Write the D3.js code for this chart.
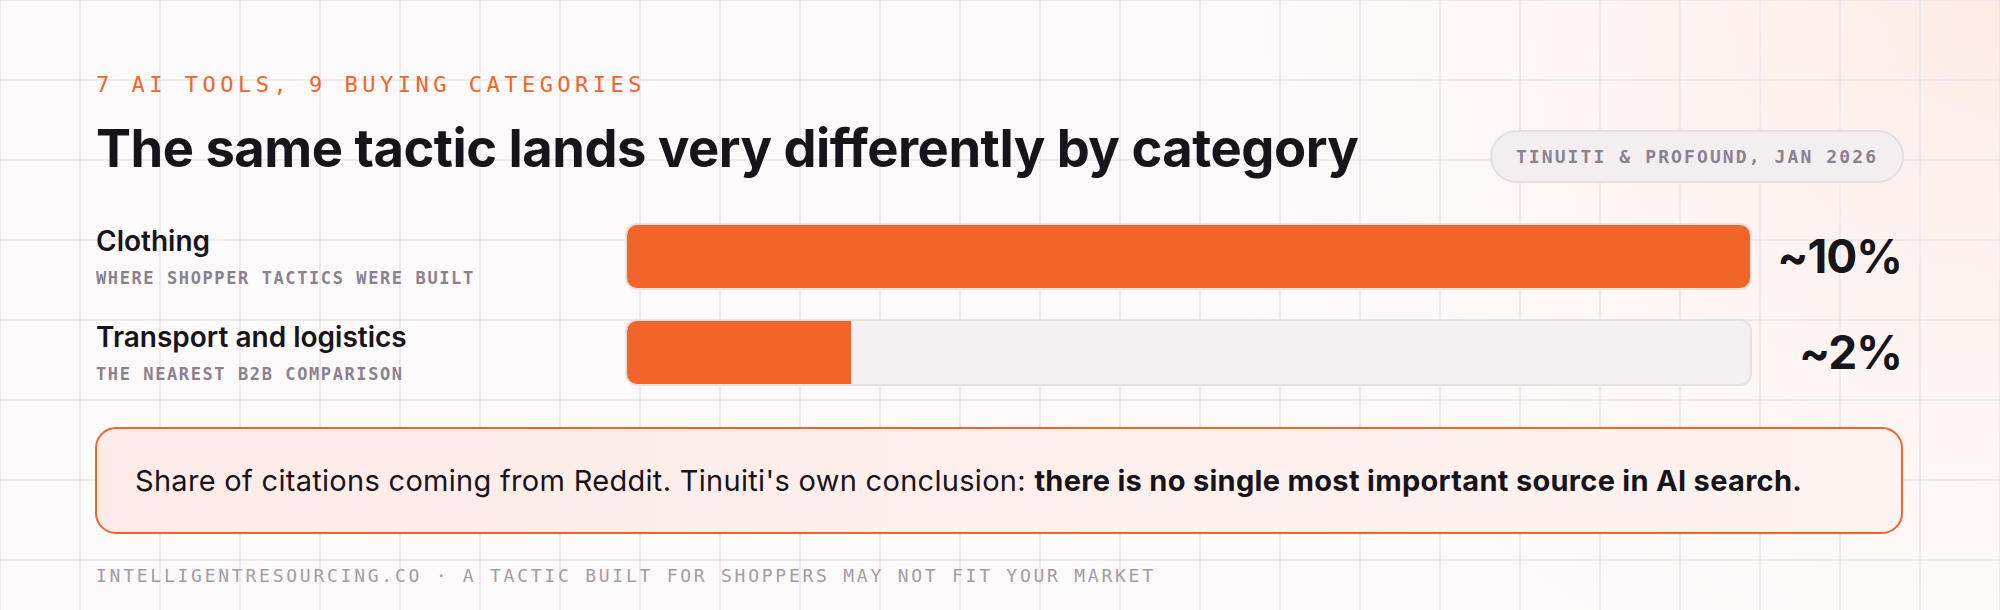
<!DOCTYPE html>
<html><head><meta charset="utf-8">
<script src="https://cdn.jsdelivr.net/npm/d3@7"></script>
<style>
html,body{margin:0;padding:0;background:#fdfafb;}
svg{display:block;}
</style></head>
<body>
<svg id="chart" width="2000" height="610"></svg>
<script>
const eyebrow = "7 AI TOOLS, 9 BUYING CATEGORIES";
const title = "The same tactic lands very differently by category";
const sourceLabel = "TINUITI & PROFOUND, JAN 2026";
const categories = ["Clothing", "Transport and logistics"];
const notes = ["WHERE SHOPPER TACTICS WERE BUILT", "THE NEAREST B2B COMPARISON"];
const values = [10, 2];
const valueLabels = ["~10%", "~2%"];
const calloutRegular = "Share of citations coming from Reddit. Tinuiti's own conclusion: ";
const calloutBold = "there is no single most important source in AI search.";
const footer = "INTELLIGENTRESOURCING.CO · A TACTIC BUILT FOR SHOPPERS MAY NOT FIT YOUR MARKET";

const W = 2000, H = 610;
const ORANGE = "#f26529", INK = "#17141a", MUTED = "#8a8290";
const SANS = "Inter, 'DejaVu Sans', sans-serif";
const MONO = "'DejaVu Sans Mono', 'Liberation Mono', monospace";

const svg = d3.select("#chart");
const defs = svg.append("defs");

// background glow
const rg = defs.append("radialGradient").attr("id","glow").attr("cx","1").attr("cy","0").attr("r","0.45")
  .attr("gradientTransform","scale(1,3.28)");
rg.append("stop").attr("offset","0").attr("stop-color","#fde9e1").attr("stop-opacity",0.9);
rg.append("stop").attr("offset","1").attr("stop-color","#fdfafb").attr("stop-opacity",0);
svg.append("rect").attr("width",W).attr("height",H).attr("fill","#fdfafb");
svg.append("rect").attr("width",W).attr("height",H).attr("fill","url(#glow)");

// grid
const grid = svg.append("g").attr("stroke","#ebe5e8").attr("stroke-width",1.5);
grid.selectAll("line.v").data(d3.range(0, W+1, 80)).join("line")
  .attr("x1",d=>d).attr("x2",d=>d).attr("y1",0).attr("y2",H);
grid.selectAll("line.h").data(d3.range(0, H+1, 80)).join("line")
  .attr("y1",d=>d).attr("y2",d=>d).attr("x1",0).attr("x2",W);

// header
svg.append("text").attr("x",96).attr("y",92).text(eyebrow)
  .attr("font-family",MONO).attr("font-size",22).attr("letter-spacing","4.5px").attr("fill",ORANGE);
svg.append("text").attr("x",96).attr("y",167).text(title)
  .attr("font-family",SANS).attr("font-weight",700).attr("font-size",52.5).attr("letter-spacing","-0.5px").attr("fill",INK);

// source pill
const pill = svg.append("g");
pill.append("rect").attr("x",1491).attr("y",131).attr("width",412).attr("height",51).attr("rx",25.5)
  .attr("fill","#f3eff1").attr("stroke","#e5dfe2").attr("stroke-width",2);
pill.append("text").attr("x",1697).attr("y",163).attr("text-anchor","middle").text(sourceLabel)
  .attr("font-family",MONO).attr("font-weight",700).attr("font-size",18).attr("letter-spacing","2.1px").attr("fill",MUTED);

// bars
const x = d3.scaleLinear().domain([0, 10]).range([626, 1751]);
const y = d3.scaleBand().domain(categories).range([224, 385]).paddingInner(0.323).paddingOuter(0);
const rows = categories.map((c,i)=>({c, note:notes[i], v:values[i], lab:valueLabels[i]}));

const row = svg.selectAll("g.row").data(rows).join("g").attr("class","row");
row.each(function(d,i){
  defs.append("clipPath").attr("id","clip"+i).append("rect")
    .attr("x",x(0)).attr("y",y(d.c)).attr("width",x(10)-x(0)).attr("height",y.bandwidth()).attr("rx",11);
});
row.append("rect").attr("x",x(0)).attr("y",d=>y(d.c)).attr("width",x(10)-x(0)).attr("height",y.bandwidth())
  .attr("rx",11).attr("fill","#f5f1f2");
row.append("rect").attr("clip-path",(d,i)=>`url(#clip${i})`)
  .attr("x",x(0)).attr("y",d=>y(d.c)).attr("width",d=>x(d.v)-x(0)).attr("height",y.bandwidth()).attr("fill",ORANGE);
row.append("rect").attr("x",x(0)).attr("y",d=>y(d.c)).attr("width",x(10)-x(0)).attr("height",y.bandwidth())
  .attr("rx",11).attr("fill","none").attr("stroke","#e8e1e3").attr("stroke-width",2);

row.append("text").attr("x",96).attr("y",d=>y(d.c)+27).text(d=>d.c)
  .attr("font-family",SANS).attr("font-weight",600).attr("font-size",28).attr("fill",INK);
row.append("text").attr("x",96).attr("y",d=>y(d.c)+60).text(d=>d.note)
  .attr("font-family",MONO).attr("font-weight",700).attr("font-size",17).attr("letter-spacing","1.6px").attr("fill",MUTED);
row.append("text").attr("x",1902).attr("y",d=>y(d.c)+49).attr("text-anchor","end").text(d=>d.lab)
  .attr("font-family",SANS).attr("font-weight",700).attr("font-size",46).attr("letter-spacing","-1px").attr("fill",INK);

// callout
const lg = defs.append("linearGradient").attr("id","callg").attr("x1","0").attr("x2","1");
lg.append("stop").attr("offset","0").attr("stop-color","#fdebe7");
lg.append("stop").attr("offset","1").attr("stop-color","#fef3f0");
svg.append("rect").attr("x",96).attr("y",428).attr("width",1806).attr("height",105).attr("rx",20)
  .attr("fill","url(#callg)").attr("stroke",ORANGE).attr("stroke-width",2);
const ct = svg.append("text").attr("x",135).attr("y",491).attr("font-family",SANS).attr("font-size",29)
  .attr("letter-spacing","0.3px").attr("fill",INK);
ct.append("tspan").text(calloutRegular);
ct.append("tspan").attr("font-weight",700).text(calloutBold);

// footer
svg.append("text").attr("x",96).attr("y",582).text(footer)
  .attr("font-family",MONO).attr("font-size",18).attr("letter-spacing","2.75px").attr("fill","#a39ca6");
</script>
</body></html>
